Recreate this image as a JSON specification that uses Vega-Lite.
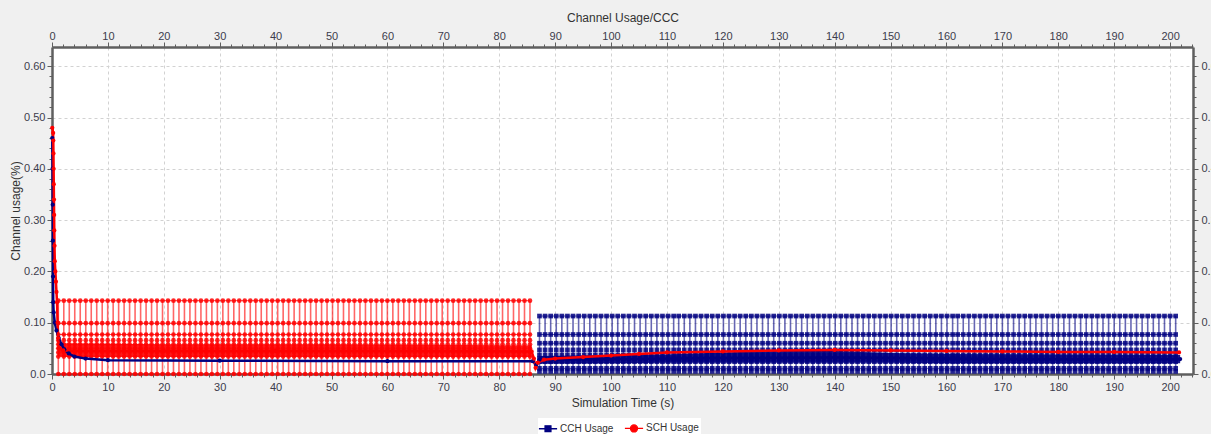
{
"$schema": "https://vega.github.io/schema/vega-lite/v6.json",
"width": 1141, "height": 327,
"autosize": {"type": "none"},
"padding": {"left": 52, "top": 47, "right": 18, "bottom": 60},
"background": "#f0f0f0",
"config": {
 "font": "Liberation Sans",
 "view": {"fill": "white", "stroke": null},
 "axis": {"labelFont": "Liberation Sans", "labelFontSize": 11, "labelColor": "#3c3c4c", "titleFont": "Liberation Sans", "titleFontSize": 12, "titleFontWeight": "normal", "titleColor": "#333333", "domainColor": "#5f5f5f", "domainWidth": 2.5, "tickColor": "#5f5f5f", "tickWidth": 1, "tickSize": 5, "gridColor": "#d2d2d2", "gridDash": [3, 3], "gridWidth": 1, "labelFlush": false},
 "legend": {"orient": "none", "legendX": 486, "legendY": 371, "direction": "horizontal", "fillColor": "white", "padding": 2, "labelFontSize": 10, "labelColor": "#333333", "columnPadding": 8, "labelOffset": 4, "labelFont": "Liberation Sans"}
},
"datasets": {
 "levels": [
  {"s": "CCH Usage", "lo": 0.005, "hi": 0.113, "v": [0.005, 0.011, 0.024, 0.030, 0.037, 0.047, 0.060, 0.077, 0.113]},
  {"s": "SCH Usage", "lo": 0, "hi": 0.143, "v": [0, 0.034, 0.042, 0.050, 0.058, 0.066, 0.077, 0.099, 0.143]}
 ],
 "stripes": [
  {"s":"CCH Usage","t":87.2},{"s":"CCH Usage","t":88.2},{"s":"CCH Usage","t":89.2},{"s":"CCH Usage","t":90.2},{"s":"CCH Usage","t":91.2},{"s":"CCH Usage","t":92.2},{"s":"CCH Usage","t":93.2},{"s":"CCH Usage","t":94.2},{"s":"CCH Usage","t":95.2},{"s":"CCH Usage","t":96.2},
  {"s":"CCH Usage","t":97.2},{"s":"CCH Usage","t":98.2},{"s":"CCH Usage","t":99.2},{"s":"CCH Usage","t":100.2},{"s":"CCH Usage","t":101.2},{"s":"CCH Usage","t":102.2},{"s":"CCH Usage","t":103.2},{"s":"CCH Usage","t":104.2},{"s":"CCH Usage","t":105.2},{"s":"CCH Usage","t":106.2},
  {"s":"CCH Usage","t":107.2},{"s":"CCH Usage","t":108.2},{"s":"CCH Usage","t":109.2},{"s":"CCH Usage","t":110.2},{"s":"CCH Usage","t":111.2},{"s":"CCH Usage","t":112.1},{"s":"CCH Usage","t":113.1},{"s":"CCH Usage","t":114.1},{"s":"CCH Usage","t":115.1},{"s":"CCH Usage","t":116.1},
  {"s":"CCH Usage","t":117.1},{"s":"CCH Usage","t":118.1},{"s":"CCH Usage","t":119.1},{"s":"CCH Usage","t":120.1},{"s":"CCH Usage","t":121.1},{"s":"CCH Usage","t":122.1},{"s":"CCH Usage","t":123.1},{"s":"CCH Usage","t":124.1},{"s":"CCH Usage","t":125.1},{"s":"CCH Usage","t":126.1},
  {"s":"CCH Usage","t":127.1},{"s":"CCH Usage","t":128.1},{"s":"CCH Usage","t":129.1},{"s":"CCH Usage","t":130.1},{"s":"CCH Usage","t":131.1},{"s":"CCH Usage","t":132.1},{"s":"CCH Usage","t":133.1},{"s":"CCH Usage","t":134.1},{"s":"CCH Usage","t":135.1},{"s":"CCH Usage","t":136.1},
  {"s":"CCH Usage","t":137.1},{"s":"CCH Usage","t":138.1},{"s":"CCH Usage","t":139.1},{"s":"CCH Usage","t":140.1},{"s":"CCH Usage","t":141.1},{"s":"CCH Usage","t":142.1},{"s":"CCH Usage","t":143.1},{"s":"CCH Usage","t":144.1},{"s":"CCH Usage","t":145.1},{"s":"CCH Usage","t":146.1},
  {"s":"CCH Usage","t":147.1},{"s":"CCH Usage","t":148.1},{"s":"CCH Usage","t":149.1},{"s":"CCH Usage","t":150.1},{"s":"CCH Usage","t":151.1},{"s":"CCH Usage","t":152.1},{"s":"CCH Usage","t":153.1},{"s":"CCH Usage","t":154.1},{"s":"CCH Usage","t":155.1},{"s":"CCH Usage","t":156.1},
  {"s":"CCH Usage","t":157.1},{"s":"CCH Usage","t":158.1},{"s":"CCH Usage","t":159.1},{"s":"CCH Usage","t":160.1},{"s":"CCH Usage","t":161.1},{"s":"CCH Usage","t":162.0},{"s":"CCH Usage","t":163.0},{"s":"CCH Usage","t":164.0},{"s":"CCH Usage","t":165.0},{"s":"CCH Usage","t":166.0},
  {"s":"CCH Usage","t":167.0},{"s":"CCH Usage","t":168.0},{"s":"CCH Usage","t":169.0},{"s":"CCH Usage","t":170.0},{"s":"CCH Usage","t":171.0},{"s":"CCH Usage","t":172.0},{"s":"CCH Usage","t":173.0},{"s":"CCH Usage","t":174.0},{"s":"CCH Usage","t":175.0},{"s":"CCH Usage","t":176.0},
  {"s":"CCH Usage","t":177.0},{"s":"CCH Usage","t":178.0},{"s":"CCH Usage","t":179.0},{"s":"CCH Usage","t":180.0},{"s":"CCH Usage","t":181.0},{"s":"CCH Usage","t":182.0},{"s":"CCH Usage","t":183.0},{"s":"CCH Usage","t":184.0},{"s":"CCH Usage","t":185.0},{"s":"CCH Usage","t":186.0},
  {"s":"CCH Usage","t":187.0},{"s":"CCH Usage","t":188.0},{"s":"CCH Usage","t":189.0},{"s":"CCH Usage","t":190.0},{"s":"CCH Usage","t":191.0},{"s":"CCH Usage","t":192.0},{"s":"CCH Usage","t":193.0},{"s":"CCH Usage","t":194.0},{"s":"CCH Usage","t":195.0},{"s":"CCH Usage","t":196.0},
  {"s":"CCH Usage","t":197.0},{"s":"CCH Usage","t":198.0},{"s":"CCH Usage","t":199.0},{"s":"CCH Usage","t":200.0},{"s":"CCH Usage","t":201.0},
  {"s":"SCH Usage","t":1.13},{"s":"SCH Usage","t":2.11},{"s":"SCH Usage","t":3.09},{"s":"SCH Usage","t":4.07},{"s":"SCH Usage","t":5.05},{"s":"SCH Usage","t":6.04},{"s":"SCH Usage","t":7.02},{"s":"SCH Usage","t":8.00},{"s":"SCH Usage","t":8.98},{"s":"SCH Usage","t":9.96},
  {"s":"SCH Usage","t":10.94},{"s":"SCH Usage","t":11.92},{"s":"SCH Usage","t":12.90},{"s":"SCH Usage","t":13.88},{"s":"SCH Usage","t":14.86},{"s":"SCH Usage","t":15.85},{"s":"SCH Usage","t":16.83},{"s":"SCH Usage","t":17.81},{"s":"SCH Usage","t":18.79},{"s":"SCH Usage","t":19.77},
  {"s":"SCH Usage","t":20.75},{"s":"SCH Usage","t":21.73},{"s":"SCH Usage","t":22.71},{"s":"SCH Usage","t":23.69},{"s":"SCH Usage","t":24.67},{"s":"SCH Usage","t":25.66},{"s":"SCH Usage","t":26.64},{"s":"SCH Usage","t":27.62},{"s":"SCH Usage","t":28.60},{"s":"SCH Usage","t":29.58},
  {"s":"SCH Usage","t":30.56},{"s":"SCH Usage","t":31.54},{"s":"SCH Usage","t":32.52},{"s":"SCH Usage","t":33.50},{"s":"SCH Usage","t":34.48},{"s":"SCH Usage","t":35.47},{"s":"SCH Usage","t":36.45},{"s":"SCH Usage","t":37.43},{"s":"SCH Usage","t":38.41},{"s":"SCH Usage","t":39.39},
  {"s":"SCH Usage","t":40.37},{"s":"SCH Usage","t":41.35},{"s":"SCH Usage","t":42.33},{"s":"SCH Usage","t":43.31},{"s":"SCH Usage","t":44.29},{"s":"SCH Usage","t":45.28},{"s":"SCH Usage","t":46.26},{"s":"SCH Usage","t":47.24},{"s":"SCH Usage","t":48.22},{"s":"SCH Usage","t":49.20},
  {"s":"SCH Usage","t":50.18},{"s":"SCH Usage","t":51.16},{"s":"SCH Usage","t":52.14},{"s":"SCH Usage","t":53.12},{"s":"SCH Usage","t":54.10},{"s":"SCH Usage","t":55.09},{"s":"SCH Usage","t":56.07},{"s":"SCH Usage","t":57.05},{"s":"SCH Usage","t":58.03},{"s":"SCH Usage","t":59.01},
  {"s":"SCH Usage","t":59.99},{"s":"SCH Usage","t":60.97},{"s":"SCH Usage","t":61.95},{"s":"SCH Usage","t":62.93},{"s":"SCH Usage","t":63.91},{"s":"SCH Usage","t":64.90},{"s":"SCH Usage","t":65.88},{"s":"SCH Usage","t":66.86},{"s":"SCH Usage","t":67.84},{"s":"SCH Usage","t":68.82},
  {"s":"SCH Usage","t":69.80},{"s":"SCH Usage","t":70.78},{"s":"SCH Usage","t":71.76},{"s":"SCH Usage","t":72.74},{"s":"SCH Usage","t":73.72},{"s":"SCH Usage","t":74.71},{"s":"SCH Usage","t":75.69},{"s":"SCH Usage","t":76.67},{"s":"SCH Usage","t":77.65},{"s":"SCH Usage","t":78.63},
  {"s":"SCH Usage","t":79.61},{"s":"SCH Usage","t":80.59},{"s":"SCH Usage","t":81.57},{"s":"SCH Usage","t":82.55},{"s":"SCH Usage","t":83.53},{"s":"SCH Usage","t":84.52},{"s":"SCH Usage","t":85.50}
 ],
 "hlines": [
  {"s":"CCH Usage","x1":87.2,"x2":201.0,"y":0.011},{"s":"CCH Usage","x1":87.2,"x2":201.0,"y":0.060},{"s":"CCH Usage","x1":87.2,"x2":201.0,"y":0.077},{"s":"CCH Usage","x1":87.2,"x2":201.0,"y":0.113},
  {"s":"SCH Usage","x1":1.13,"x2":85.5,"y":0},{"s":"SCH Usage","x1":1.13,"x2":85.5,"y":0.077},{"s":"SCH Usage","x1":1.13,"x2":85.5,"y":0.099},{"s":"SCH Usage","x1":1.13,"x2":85.5,"y":0.143}
 ],
 "band": [
  {"s":"CCH Usage","t":87.2,"lo":0.020,"hi":0.035},{"s":"CCH Usage","t":100,"lo":0.021,"hi":0.037},{"s":"CCH Usage","t":110,"lo":0.022,"hi":0.038},{"s":"CCH Usage","t":120,"lo":0.022,"hi":0.042},{"s":"CCH Usage","t":130,"lo":0.022,"hi":0.045},{"s":"CCH Usage","t":140,"lo":0.022,"hi":0.045},{"s":"CCH Usage","t":150,"lo":0.022,"hi":0.041},{"s":"CCH Usage","t":160,"lo":0.021,"hi":0.039},{"s":"CCH Usage","t":180,"lo":0.021,"hi":0.038},{"s":"CCH Usage","t":201.8,"lo":0.021,"hi":0.037},
  {"s":"SCH Usage","t":1.0,"lo":0.034,"hi":0.066},{"s":"SCH Usage","t":2,"lo":0.033,"hi":0.060},{"s":"SCH Usage","t":20,"lo":0.033,"hi":0.058},{"s":"SCH Usage","t":50,"lo":0.033,"hi":0.058},{"s":"SCH Usage","t":85.8,"lo":0.033,"hi":0.056}
 ],
 "curves": [
  {"s":"CCH Usage","t":0.05,"v":0.46},{"s":"CCH Usage","t":0.1,"v":0.40},{"s":"CCH Usage","t":0.13,"v":0.33},{"s":"CCH Usage","t":0.16,"v":0.26},{"s":"CCH Usage","t":0.19,"v":0.19},{"s":"CCH Usage","t":0.22,"v":0.14},{"s":"CCH Usage","t":0.3,"v":0.12},{"s":"CCH Usage","t":0.5,"v":0.10},{"s":"CCH Usage","t":0.8,"v":0.085},{"s":"CCH Usage","t":1.2,"v":0.07},{"s":"CCH Usage","t":1.7,"v":0.058},{"s":"CCH Usage","t":2.2,"v":0.048},{"s":"CCH Usage","t":3,"v":0.04},{"s":"CCH Usage","t":4,"v":0.034},{"s":"CCH Usage","t":6,"v":0.03},{"s":"CCH Usage","t":10,"v":0.027},{"s":"CCH Usage","t":30,"v":0.026},{"s":"CCH Usage","t":60,"v":0.025},{"s":"CCH Usage","t":86,"v":0.025},{"s":"CCH Usage","t":86.6,"v":0.018},{"s":"CCH Usage","t":87.2,"v":0.028},{"s":"CCH Usage","t":100,"v":0.029},{"s":"CCH Usage","t":120,"v":0.031},{"s":"CCH Usage","t":140,"v":0.032},{"s":"CCH Usage","t":160,"v":0.03},{"s":"CCH Usage","t":180,"v":0.029},{"s":"CCH Usage","t":201.8,"v":0.029},
  {"s":"SCH Usage","t":0.05,"v":0.48},{"s":"SCH Usage","t":0.2,"v":0.47},{"s":"SCH Usage","t":0.23,"v":0.455},{"s":"SCH Usage","t":0.26,"v":0.43},{"s":"SCH Usage","t":0.29,"v":0.40},{"s":"SCH Usage","t":0.32,"v":0.37},{"s":"SCH Usage","t":0.35,"v":0.34},{"s":"SCH Usage","t":0.38,"v":0.31},{"s":"SCH Usage","t":0.41,"v":0.28},{"s":"SCH Usage","t":0.45,"v":0.25},{"s":"SCH Usage","t":0.5,"v":0.22},{"s":"SCH Usage","t":0.6,"v":0.20},{"s":"SCH Usage","t":0.7,"v":0.18},{"s":"SCH Usage","t":0.8,"v":0.16},{"s":"SCH Usage","t":0.9,"v":0.14},{"s":"SCH Usage","t":1.0,"v":0.10},{"s":"SCH Usage","t":1.1,"v":0.07},{"s":"SCH Usage","t":1.25,"v":0.05},{"s":"SCH Usage","t":2,"v":0.046},{"s":"SCH Usage","t":5,"v":0.045},{"s":"SCH Usage","t":20,"v":0.045},{"s":"SCH Usage","t":40,"v":0.045},{"s":"SCH Usage","t":60,"v":0.045},{"s":"SCH Usage","t":85.8,"v":0.044},{"s":"SCH Usage","t":86.2,"v":0.03},{"s":"SCH Usage","t":86.5,"v":0.012},{"s":"SCH Usage","t":86.9,"v":0.022},{"s":"SCH Usage","t":88,"v":0.028},{"s":"SCH Usage","t":90,"v":0.03},{"s":"SCH Usage","t":95,"v":0.033},{"s":"SCH Usage","t":100,"v":0.036},{"s":"SCH Usage","t":105,"v":0.039},{"s":"SCH Usage","t":110,"v":0.042},{"s":"SCH Usage","t":120,"v":0.044},{"s":"SCH Usage","t":130,"v":0.046},{"s":"SCH Usage","t":140,"v":0.047},{"s":"SCH Usage","t":150,"v":0.046},{"s":"SCH Usage","t":160,"v":0.045},{"s":"SCH Usage","t":170,"v":0.044},{"s":"SCH Usage","t":180,"v":0.043},{"s":"SCH Usage","t":190,"v":0.043},{"s":"SCH Usage","t":201.6,"v":0.042}
 ]
},
"resolve": {"axis": {"x": "independent", "y": "independent"}, "legend": {"color": "independent", "shape": "independent"}},
"layer": [
 {
  "data": {"name": "band"},
  "mark": {"type": "area", "opacity": 0.9},
  "encoding": {
   "x": {"field": "t", "type": "quantitative", "scale": {"domain": [0, 204.1], "nice": false, "zero": false},
    "axis": {"orient": "bottom", "values": [0,10,20,30,40,50,60,70,80,90,100,110,120,130,140,150,160,170,180,190,200], "title": "Simulation Time (s)", "grid": true, "labelPadding": 2, "titlePadding": 5}},
   "y": {"field": "lo", "type": "quantitative", "scale": {"domain": [0, 0.6375], "nice": false},
    "axis": {"orient": "left", "values": [0,0.1,0.2,0.3,0.4,0.5,0.6], "labelExpr": "datum.value == 0 ? '0.0' : format(datum.value, '.2f')", "title": "Channel usage(%)", "grid": true, "labelPadding": 2, "titlePadding": 1}},
   "y2": {"field": "hi"},
   "color": {"field": "s", "type": "nominal", "scale": {"domain": ["CCH Usage", "SCH Usage"], "range": ["#000080", "#ff0000"]}, "legend": null},
   "detail": {"field": "s"}
  }
 },
 {
  "data": {"name": "hlines"},
  "mark": {"type": "rule", "strokeWidth": 1, "opacity": 0.7},
  "encoding": {
   "x": {"field": "x1", "type": "quantitative",
    "axis": {"orient": "top", "values": [0,10,20,30,40,50,60,70,80,90,100,110,120,130,140,150,160,170,180,190,200], "title": "Channel Usage/CCC", "grid": false, "labelPadding": 1, "titlePadding": 6}},
   "x2": {"field": "x2"},
   "y": {"field": "y", "type": "quantitative",
    "axis": {"orient": "right", "values": [0,0.1,0.2,0.3,0.4,0.5,0.6], "labelExpr": "datum.value == 0 ? '0.0' : format(datum.value, '.1f')", "title": null, "grid": false, "labelPadding": 3}},
   "color": {"field": "s", "type": "nominal", "legend": null}
  }
 },
 {
  "data": {"name": "hlines"},
  "mark": {"type": "rule", "opacity": 0},
  "encoding": {
   "x": {"field": "x1", "type": "quantitative",
    "axis": {"orient": "bottom", "values": [0,2,4,6,8,12,14,16,18,22,24,26,28,32,34,36,38,42,44,46,48,52,54,56,58,62,64,66,68,72,74,76,78,82,84,86,88,92,94,96,98,102,104,106,108,112,114,116,118,122,124,126,128,132,134,136,138,142,144,146,148,152,154,156,158,162,164,166,168,172,174,176,178,182,184,186,188,192,194,196,198,202,204], "labels": false, "domain": false, "grid": false, "tickSize": 3, "title": null}},
   "y": {"field": "y", "type": "quantitative",
    "axis": {"orient": "left", "values": [0.02,0.04,0.06,0.08,0.12,0.14,0.16,0.18,0.22,0.24,0.26,0.28,0.32,0.34,0.36,0.38,0.42,0.44,0.46,0.48,0.52,0.54,0.56,0.58,0.62], "labels": false, "domain": false, "grid": false, "tickSize": 3, "title": null}}
  }
 },
 {
  "data": {"name": "hlines"},
  "mark": {"type": "rule", "opacity": 0},
  "encoding": {
   "x": {"field": "x1", "type": "quantitative",
    "axis": {"orient": "top", "values": [2,4,6,8,12,14,16,18,22,24,26,28,32,34,36,38,42,44,46,48,52,54,56,58,62,64,66,68,72,74,76,78,82,84,86,88,92,94,96,98,102,104,106,108,112,114,116,118,122,124,126,128,132,134,136,138,142,144,146,148,152,154,156,158,162,164,166,168,172,174,176,178,182,184,186,188,192,194,196,198,202,204], "labels": false, "domain": false, "grid": false, "tickSize": 3, "title": null}},
   "y": {"field": "y", "type": "quantitative",
    "axis": {"orient": "right", "values": [0.02,0.04,0.06,0.08,0.12,0.14,0.16,0.18,0.22,0.24,0.26,0.28,0.32,0.34,0.36,0.38,0.42,0.44,0.46,0.48,0.52,0.54,0.56,0.58,0.62], "labels": false, "domain": false, "grid": false, "tickSize": 3, "title": null}}
  }
 },
 {
  "data": {"name": "stripes"},
  "transform": [{"lookup": "s", "from": {"data": {"name": "levels"}, "key": "s", "fields": ["lo", "hi"]}}],
  "mark": {"type": "rule", "strokeWidth": 1.6, "opacity": 0.6},
  "encoding": {
   "x": {"field": "t", "type": "quantitative", "axis": null},
   "y": {"field": "lo", "type": "quantitative", "axis": null},
   "y2": {"field": "hi"},
   "color": {"field": "s", "type": "nominal", "legend": null}
  }
 },
 {
  "data": {"name": "stripes"},
  "transform": [{"filter": "datum.s == 'CCH Usage'"}, {"lookup": "s", "from": {"data": {"name": "levels"}, "key": "s", "fields": ["v"]}}, {"flatten": ["v"]}],
  "mark": {"type": "point", "shape": "square", "filled": true, "size": 22, "opacity": 0.85},
  "encoding": {
   "x": {"field": "t", "type": "quantitative", "axis": null},
   "y": {"field": "v", "type": "quantitative", "axis": null},
   "color": {"field": "s", "type": "nominal", "legend": null}
  }
 },
 {
  "data": {"name": "stripes"},
  "transform": [{"filter": "datum.s == 'SCH Usage'"}, {"lookup": "s", "from": {"data": {"name": "levels"}, "key": "s", "fields": ["v"]}}, {"flatten": ["v"]}],
  "mark": {"type": "point", "shape": "circle", "filled": true, "size": 22, "opacity": 0.85},
  "encoding": {
   "x": {"field": "t", "type": "quantitative", "axis": null},
   "y": {"field": "v", "type": "quantitative", "axis": null},
   "color": {"field": "s", "type": "nominal", "legend": null}
  }
 },
 {
  "data": {"name": "curves"},
  "mark": {"type": "line", "strokeWidth": 2.5, "point": {"filled": true, "size": 18}},
  "encoding": {
   "x": {"field": "t", "type": "quantitative", "axis": null},
   "y": {"field": "v", "type": "quantitative", "axis": null},
   "color": {"field": "s", "type": "nominal", "legend": null}
  }
 },
 {
  "data": {"name": "levels"},
  "mark": {"type": "point", "filled": true, "opacity": 0},
  "encoding": {
   "x": {"field": "hi", "type": "quantitative", "axis": null},
   "y": {"field": "hi", "type": "quantitative", "axis": null},
   "color": {"field": "s", "type": "nominal", "legend": {"title": null, "symbolSize": 196, "symbolOpacity": 1, "symbolStrokeWidth": 1.3, "encode": {"symbols": {"update": {"stroke": {"scale": "color", "field": "value"}}}}}},
   "shape": {"field": "s", "type": "nominal", "scale": {"domain": ["CCH Usage", "SCH Usage"], "range": ["M-1.3,0H1.3M-0.42,-0.42H0.42V0.42H-0.42Z", "M-1.3,0H1.3M0.5,0A0.5,0.5 0 1 1 -0.5,0A0.5,0.5 0 1 1 0.5,0Z"]}, "legend": {"title": null}}
  }
 }
]
}
